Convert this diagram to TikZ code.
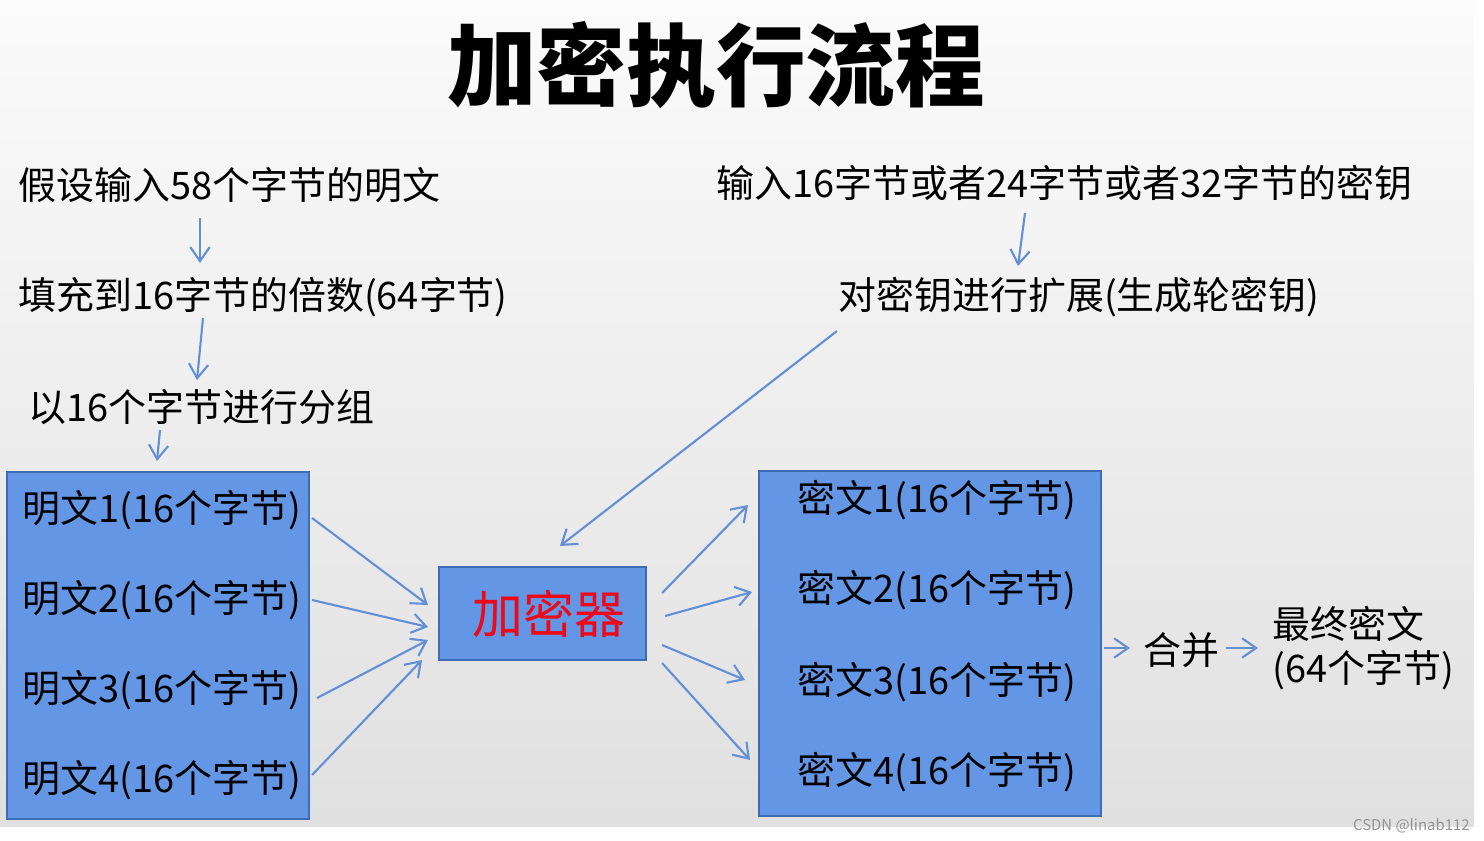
\documentclass[tikz,border=0pt]{standalone}
\usepackage{fontspec}
\setmainfont{Noto Sans CJK SC}
\usetikzlibrary{arrows.meta,calc}
\definecolor{boxfill}{RGB}{100,150,230}
\definecolor{boxline}{RGB}{62,108,178}
\definecolor{arr}{RGB}{98,143,214}
\definecolor{bgtop}{RGB}{251,251,251}
\definecolor{bgbot}{RGB}{224,224,224}
\definecolor{enctext}{RGB}{235,10,25}
\begin{document}
\begin{tikzpicture}[x=0.02cm,y=-0.02cm,
  txt/.style={inner sep=0pt, anchor=west, font=\fontsize{21.6pt}{26pt}\selectfont},
  panel/.style={draw=boxline, line width=1.2pt, fill=boxfill, anchor=north west, inner sep=0pt},
  flow/.style={draw=arr, line width=1.2pt, -{Straight Barb[length=8pt,width=11pt]}}]
\useasboundingbox (0,0) rectangle (1484,841);
\fill[white] (0,0) rectangle (1484,841);
\shade[top color=bgtop,bottom color=bgbot] (0,0) rectangle (1474,826);

% title
\node[font=\fontsize{51pt}{57pt}\selectfont\bfseries] (title) at (716,65) {加密执行流程};

% left chain
\node[txt] (s1) at (18,185) {假设输入58个字节的明文};
\node[txt] (s2) at (18,297) {填充到16字节的倍数(64字节)};
\node[txt] (s3) at (28,407) {以16个字节进行分组};

% key chain
\node[txt] (k1) at (716,183) {输入16字节或者24字节或者32字节的密钥};
\node[txt] (k2) at (838,297) {对密钥进行扩展(生成轮密钥)};

% plaintext panel
\node[panel, minimum width=6.04cm, minimum height=6.94cm] (L) at (6,471) {};
\node[txt] (p1) at (22,510) {明文1(16个字节)};
\node[txt] (p2) at (22,600) {明文2(16个字节)};
\node[txt] (p3) at (22,690) {明文3(16个字节)};
\node[txt] (p4) at (22,780) {明文4(16个字节)};

% encryptor
\node[panel, minimum width=4.14cm, minimum height=1.86cm, text=enctext,
      font=\fontsize{29pt}{33pt}\selectfont] (enc) at (438,566) {\hspace*{7pt}加密器};

% ciphertext panel
\node[panel, minimum width=6.84cm, minimum height=6.9cm] (R) at (758,470) {};
\node[txt] (c1) at (797,500) {密文1(16个字节)};
\node[txt] (c2) at (797,590) {密文2(16个字节)};
\node[txt] (c3) at (797,682) {密文3(16个字节)};
\node[txt] (c4) at (797,772) {密文4(16个字节)};

% merge & final
\node[txt] (m) at (1143,650) {合并};
\node[txt, align=left, font=\fontsize{21.6pt}{25.5pt}\selectfont] (fin) at (1272,648) {最终密文\\(64个字节)};

% watermark
\node[anchor=east, inner sep=0pt, text=gray!85, font=\fontsize{8.5pt}{9pt}\selectfont] (wm) at (1470,826) {CSDN @linab112};

% connectors
\draw[flow] ([shift={(182,33)}]s1.west) -- ([shift={(182,-34)}]s2.west);
\draw[flow] ([shift={(185,21)}]s2.west) -- ([shift={(169,-27)}]s3.west);
\draw[flow] ([shift={(132,23)}]s3.west) -- ([shift={(151,-10)}]L.north west);
\draw[flow] ([shift={(309,30)}]k1.west) -- ([shift={(180,-31)}]k2.west);
\draw[flow] ([shift={(-1,34)}]k2.west) -- ([shift={(122,-20)}]enc.north west);

\draw[flow] ([shift={(2,47)}]L.north east) -- ([shift={(-10,39)}]enc.north west);
\draw[flow] ([shift={(2,129)}]L.north east) -- ([shift={(-10,61)}]enc.north west);
\draw[flow] ([shift={(7,227)}]L.north east) -- ([shift={(-10,74)}]enc.north west);
\draw[flow] ([shift={(2,304)}]L.north east) -- ([shift={(-16,94)}]enc.north west);

\draw[flow] ([shift={(15,27)}]enc.north east) -- ([shift={(-10,35)}]R.north west);
\draw[flow] ([shift={(18,50)}]enc.north east) -- ([shift={(-6,122)}]R.north west);
\draw[flow] ([shift={(15,79)}]enc.north east) -- ([shift={(-13,210)}]R.north west);
\draw[flow] ([shift={(15,97)}]enc.north east) -- ([shift={(-8,290)}]R.north west);

\draw[flow] ([shift={(2,178)}]R.north east) -- ([shift={(-13,-2)}]m.west);
\draw[flow] ([shift={(6,-2)}]m.east) -- ([shift={(-14,0)}]fin.west);
\end{tikzpicture}
\end{document}
